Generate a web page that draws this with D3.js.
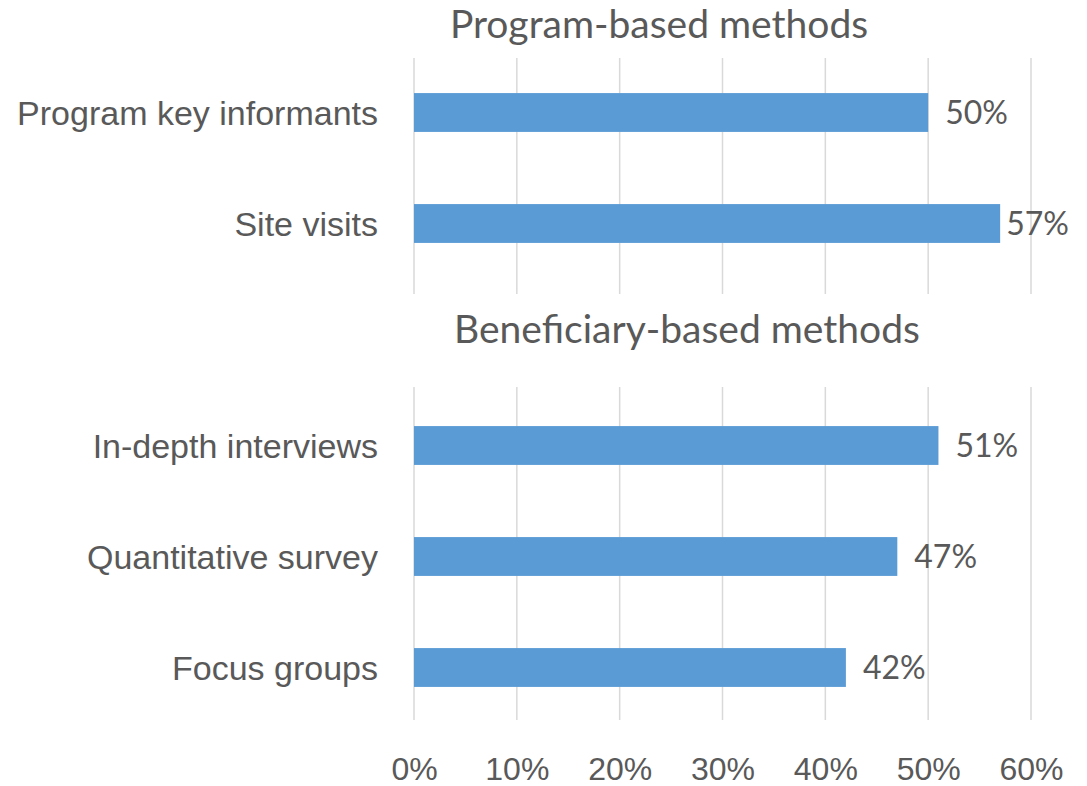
<!DOCTYPE html>
<html>
<head>
<meta charset="utf-8">
<script src="https://cdn.jsdelivr.net/npm/d3@7"></script>
<style>
  body { margin: 0; background: #fff; }
  svg { display: block; font-family: Lato, "Liberation Sans", sans-serif; }
</style>
</head>
<body>
<div id="chart"></div>
<script>
// data
const programCategories = ["Program key informants", "Site visits"];
const programValues = [0.50, 0.57];
const beneficiaryCategories = ["In-depth interviews", "Quantitative survey", "Focus groups"];
const beneficiaryValues = [0.51, 0.47, 0.42];
const xTicks = [0, 0.1, 0.2, 0.3, 0.4, 0.5, 0.6];

const width = 1087, height = 786;
const fontSize = 32;
const textColor = "#595959";

const svg = d3.select("#chart").append("svg")
    .attr("width", width)
    .attr("height", height);

const xScale = d3.scaleLinear()
    .domain([0, 0.6])
    .range([414, 1031]);

const pct = d3.format(".0%");

// one panel = title + gridlines + bars
const drawPanel = (cats, vals, title, opts) => {
    const g = svg.append("g");

    const yScale = d3.scaleBand()
        .domain(cats)
        .range(opts.band)
        .paddingInner(0.65)
        .paddingOuter(0.325);

    g.append("text")
        .attr("x", opts.titleX)
        .attr("y", opts.titleY)
        .attr("text-anchor", "middle")
        .attr("fill", textColor)
        .style("font-size", "39px")
        .text(title);

    // gridlines
    g.append("g").selectAll("line")
        .data(xTicks)
        .join("line")
        .attr("x1", d => xScale(d))
        .attr("x2", d => xScale(d))
        .attr("y1", opts.grid[0])
        .attr("y2", opts.grid[1])
        .attr("stroke", "#d9d9d9")
        .attr("stroke-width", 1.5);

    const data = cats.map((c, i) => ({cat: c, val: vals[i]}));

    g.append("g").selectAll("rect")
        .data(data)
        .join("rect")
        .attr("x", xScale(0))
        .attr("y", d => yScale(d.cat))
        .attr("width", d => xScale(d.val) - xScale(0))
        .attr("height", yScale.bandwidth())
        .attr("fill", "#5b9bd5");

    // value labels (pushed back inside the chart if they would run off the edge)
    g.append("g").selectAll("text")
        .data(data)
        .join("text")
        .attr("x", d => xScale(d.val) + 17)
        .attr("y", d => yScale(d.cat) + yScale.bandwidth() / 2)
        .attr("dy", "0.36em")
        .attr("fill", textColor)
        .style("font-size", fontSize + "px")
        .text(d => pct(d.val))
        .each(function(d) {
            const w = this.getComputedTextLength();
            const x0 = xScale(d.val) + 17;
            if (x0 + w > width - 18) d3.select(this).attr("x", Math.max(xScale(d.val) + 6, width - 18 - w));
        });

    // category axis
    const yAxis = g.append("g")
        .attr("transform", `translate(${xScale(0) - 10},0)`)
        .call(d3.axisLeft(yScale).tickSize(0).tickPadding(26));
    yAxis.select(".domain").remove();
    yAxis.selectAll("text")
        .attr("fill", textColor)
        .attr("dy", "0.36em")
        .style("font-size", "34px")
        .style("font-family", "inherit");
};

drawPanel(programCategories, programValues, "Program-based methods",
    {band: [57, 279], grid: [58, 294], titleX: 659, titleY: 38});
drawPanel(beneficiaryCategories, beneficiaryValues, "Beneficiary-based methods",
    {band: [390, 723], grid: [387, 720], titleX: 687, titleY: 343});

/** x axis labels */
const xAxis = svg.append("g")
    .attr("transform", "translate(0,720)")
    .call(d3.axisBottom(xScale).tickValues(xTicks).tickFormat(pct).tickSize(0).tickPadding(37));
xAxis.select(".domain").remove();
xAxis.selectAll("text")
    .attr("fill", textColor)
    .style("font-size", fontSize + "px")
    .style("font-family", "inherit");
</script>
</body>
</html>
